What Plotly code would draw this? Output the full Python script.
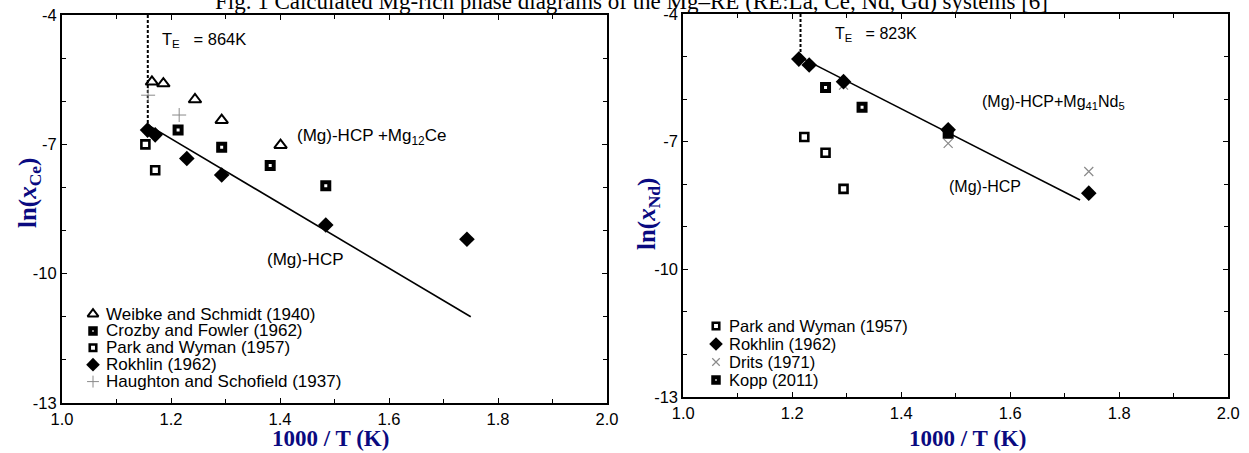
import plotly.graph_objects as go

W, H = 1249, 453

# ---------------- Mg-Ce data ----------------
ce_weibke_x = [1.165, 1.186, 1.244, 1.293, 1.401]
ce_weibke_y = [-5.55, -5.59, -5.96, -6.44, -7.02]
ce_crozby_x = [1.213, 1.293, 1.382, 1.484]
ce_crozby_y = [-6.67, -7.07, -7.49, -7.96]
ce_park_x = [1.153, 1.171]
ce_park_y = [-7.00, -7.60]
ce_rokhlin_x = [1.157, 1.171, 1.229, 1.293, 1.484, 1.743]
ce_rokhlin_y = [-6.67, -6.78, -7.33, -7.71, -8.87, -9.20]
ce_haughton_x = [1.158, 1.215]
ce_haughton_y = [-5.86, -6.32]
ce_solvus_x = [1.1574, 1.75]
ce_solvus_y = [-6.55, -11.0]
ce_TE = 864

# ---------------- Mg-Nd data ----------------
nd_park_x = [1.222, 1.261, 1.294]
nd_park_y = [-6.89, -7.26, -8.11]
nd_rokhlin_x = [1.212, 1.231, 1.294, 1.486, 1.744]
nd_rokhlin_y = [-5.06, -5.20, -5.59, -6.72, -8.21]
nd_drits_x = [1.294, 1.486, 1.744]
nd_drits_y = [-5.67, -7.04, -7.70]
nd_kopp_x = [1.261, 1.328, 1.486]
nd_kopp_y = [-5.73, -6.19, -6.80]
nd_solvus_x = [1.215, 1.728]
nd_solvus_y = [-5.02, -8.37]
nd_TE = 823

x_ticks = [1.0, 1.2, 1.4, 1.6, 1.8, 2.0]
x_ticktext = ["1.0", "1.2", "1.4", "1.6", "1.8", "2.0"]
y_ticks = [-4, -7, -10, -13]
y_ticktext = ["-4", "-7", "-10", "-13"]

ce_legend = ["Weibke and Schmidt (1940)", "Crozby and Fowler (1962)",
             "Park and Wyman (1957)", "Rokhlin (1962)",
             "Haughton and Schofield (1937)"]
nd_legend = ["Park and Wyman (1957)", "Rokhlin (1962)", "Drits (1971)", "Kopp (2011)"]

title_text = "Fig. 1 Calculated Mg-rich phase diagrams of the Mg\u2013RE (RE:La, Ce, Nd, Gd) systems [6]"

# ---------------- styles ----------------
S_TRI = dict(symbol="triangle-up-open", size=11, color="black", line=dict(width=2, color="black"))
S_THICK = dict(symbol="square-open", size=7, color="black", line=dict(width=4, color="black"))
S_OPEN = dict(symbol="square-open", size=8, color="black", line=dict(width=2.6, color="black"))
S_DIA = dict(symbol="diamond", size=12, color="black", line=dict(width=0))
S_PLUS = dict(symbol="cross-thin-open", size=10, color="#8a8a8a", line=dict(width=1, color="#8a8a8a"))
S_X = dict(symbol="x-thin-open", size=9, color="#8a8a8a", line=dict(width=1.2, color="#8a8a8a"))

NAVY = "#0a0a80"
TFONT = "Arial, Liberation Sans, sans-serif"
SERIF = "Liberation Serif, Times New Roman, serif"

fig = go.Figure()

def pts(x, y, style, xa, ya):
    fig.add_trace(go.Scatter(x=x, y=y, mode="markers", marker=style,
                             xaxis=xa, yaxis=ya, showlegend=False, cliponaxis=False))

def solvus(sx, sy, te, xa, ya):
    xe = 1000.0 / te
    fig.add_trace(go.Scatter(x=[xe, xe], y=[-4, sy[0]], mode="lines",
                             line=dict(color="black", width=2, dash="3px,2px"),
                             xaxis=xa, yaxis=ya, showlegend=False))
    fig.add_trace(go.Scatter(x=sx, y=sy, mode="lines", line=dict(color="black", width=1.6),
                             xaxis=xa, yaxis=ya, showlegend=False))

# left panel
solvus(ce_solvus_x, ce_solvus_y, ce_TE, "x", "y")
pts(ce_weibke_x, ce_weibke_y, S_TRI, "x", "y")
pts(ce_crozby_x, ce_crozby_y, S_THICK, "x", "y")
pts(ce_park_x, ce_park_y, S_OPEN, "x", "y")
pts(ce_rokhlin_x, ce_rokhlin_y, S_DIA, "x", "y")
pts(ce_haughton_x, ce_haughton_y, S_PLUS, "x", "y")

# right panel
solvus(nd_solvus_x, nd_solvus_y, nd_TE, "x2", "y2")
pts(nd_park_x, nd_park_y, S_OPEN, "x2", "y2")
pts(nd_kopp_x, nd_kopp_y, S_THICK, "x2", "y2")
pts(nd_drits_x, nd_drits_y, S_X, "x2", "y2")
pts(nd_rokhlin_x, nd_rokhlin_y, S_DIA, "x2", "y2")


def A(x, y, text, xref, yref, size, family=TFONT, color="black", xanchor="center", angle=0):
    fig.add_annotation(x=x, y=y, xref=xref, yref=yref, text=text, showarrow=False,
                       xanchor=xanchor, yanchor="middle", textangle=angle,
                       font=dict(family=family, size=size, color=color))

# legend keys on a pixel-space overlay axis
def legend_block(labels, styles, sym_x, text_x, y0, gap, fsize):
    for i, (lab, st) in enumerate(zip(labels, styles)):
        yy = y0 + i * gap
        key = dict(st)
        key["size"] = st["size"] - 1.5
        fig.add_trace(go.Scatter(x=[sym_x], y=[yy], mode="markers", marker=key,
                                 xaxis="x3", yaxis="y3", showlegend=False, hoverinfo="skip"))
        A(text_x / W, 1 - yy / H, lab, "paper", "paper", fsize, xanchor="left")

legend_block(ce_legend, [S_TRI, S_THICK, S_OPEN, S_DIA, S_PLUS], 93, 104, 314, 16.9, 17)
legend_block(nd_legend, [S_OPEN, S_DIA, S_X, S_THICK], 716, 727, 326, 18, 16.5)

axis_common = dict(showgrid=False, zeroline=False, showline=True, automargin=False,
                   linecolor="black", linewidth=2, mirror="ticks", ticks="inside",
                   ticklen=5, tickwidth=1, tickcolor="black",
                   tickfont=dict(family=TFONT, size=16.5, color="black"))

xa = dict(axis_common, range=[1.0, 2.0], tickvals=x_ticks, ticktext=x_ticktext,
          minor=dict(dtick=0.1, tick0=1.0, ticks="inside", ticklen=4, tickcolor="black"))
ya = dict(axis_common, range=[-13, -4], tickvals=y_ticks, ticktext=y_ticktext,
          minor=dict(dtick=1, tick0=-13, ticks="inside", ticklen=4, tickcolor="black"))

fig.update_layout(
    template="none",
    width=W, height=H,
    margin=dict(l=0, r=0, t=0, b=0, pad=0, autoexpand=False),
    paper_bgcolor="white", plot_bgcolor="rgba(0,0,0,0)",
    showlegend=False,
    font=dict(family=TFONT, size=15, color="black"),
    xaxis=dict(xa, domain=[62 / W, 607 / W], anchor="y"),
    yaxis=dict(ya, domain=[1 - 403 / H, 1 - 15 / H], anchor="x"),
    xaxis2=dict(xa, domain=[683.3 / W, 1228.3 / W], anchor="y2"),
    yaxis2=dict(ya, domain=[1 - 397 / H, 1 - 14 / H], anchor="x2"),
    xaxis3=dict(domain=[0, 1], range=[0, W], visible=False, anchor="y3", fixedrange=True),
    yaxis3=dict(domain=[0, 1], range=[H, 0], visible=False, anchor="x3", fixedrange=True),
)

# in-plot labels
A(1.18, -4.58, "T<sub>E</sub>   = %dK" % ce_TE, "x", "y", 16.5, xanchor="left")
A(1.567, -6.83, "(Mg)-HCP +Mg<sub>12</sub>Ce", "x", "y", 17)
A(1.446, -9.68, "(Mg)-HCP", "x", "y", 17)
A(1.275, -4.49, "T<sub>E</sub>   = %dK" % nd_TE, "x2", "y2", 16, xanchor="left")
A(1.680, -6.07, "(Mg)-HCP+Mg<sub>41</sub>Nd<sub>5</sub>", "x2", "y2", 16)
A(1.554, -8.06, "(Mg)-HCP", "x2", "y2", 16)

# axis titles
A(330 / W, 1 - 438 / H, "<b>1000 / T (K)</b>", "paper", "paper", 23, SERIF, NAVY)
A(967 / W, 1 - 438 / H, "<b>1000 / T (K)</b>", "paper", "paper", 23, SERIF, NAVY)
A(30 / W, 1 - 193 / H, "<b>ln(<i>x</i><sub>Ce</sub>)</b>", "paper", "paper", 25, SERIF, NAVY, angle=-90)
A(648 / W, 1 - 214 / H, "<b>ln(<i>x</i><sub>Nd</sub>)</b>", "paper", "paper", 25, SERIF, NAVY, angle=-90)

# cut-off caption at the very top
A(631 / W, 1 - 1.5 / H, title_text, "paper", "paper", 23, SERIF, "black")

fig.write_html("out.html", config={"displayModeBar": False, "staticPlot": True},
               post_script="document.body.style.margin='0';")
